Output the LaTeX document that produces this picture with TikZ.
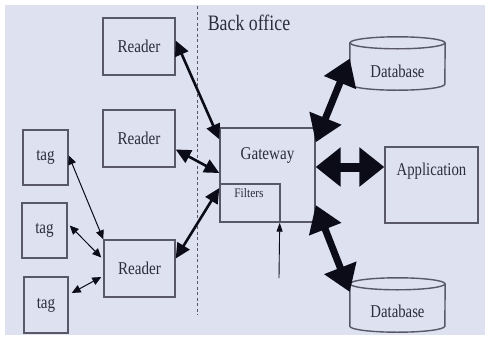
\documentclass[tikz,border=0pt]{standalone}
\usepackage{fontspec}
\setmainfont{Liberation Serif}
\usetikzlibrary{arrows.meta,calc}

\definecolor{bgc}{RGB}{221,225,240}
\definecolor{edge}{RGB}{88,88,104}
\definecolor{ink}{RGB}{45,45,60}
\definecolor{arr}{RGB}{12,12,24}

% horizontally condensed text
\newcommand{\cond}[2][0.84]{\scalebox{#1}[1]{#2}}

\tikzset{
  box/.style={draw=edge, line width=1.4pt, inner sep=0pt},
  lbl/.style={text=ink, inner sep=0pt, font=\fontsize{18}{21}\selectfont},
  smalllbl/.style={text=ink, inner sep=0pt, font=\fontsize{13}{15}\selectfont},
  cyl/.style={draw=edge, line width=1.4pt},
  thinarrow/.style={draw=arr, line width=1pt,
    {Triangle[length=9pt,width=8pt]}-{Triangle[length=9pt,width=8pt]}},
  midarrow/.style={draw=arr, line width=2.6pt,
    {Triangle[length=15pt,width=14pt]}-{Triangle[length=15pt,width=14pt]}},
  dbarrow/.style={draw=arr, line width=7pt,
    {Triangle[length=26pt,width=33pt]}-{Triangle[length=26pt,width=33pt]}},
  bigarrow/.style={draw=arr, line width=9pt,
    {Triangle[length=25pt,width=38pt]}-{Triangle[length=25pt,width=38pt]}},
}

\begin{document}
\begin{tikzpicture}[x=1pt,y=-1pt]
  \useasboundingbox (0,0) rectangle (491,341);
  \fill[white] (0,0) rectangle (491,341);
  \fill[bgc] (5,5) rectangle (485,335);

  % boundary of the back office
  \coordinate (dtop) at (197,6);
  \coordinate (dbot) at (197,315);
  \draw[edge, line width=0.9pt, dash pattern=on 3pt off 2.5pt] (dtop) -- (dbot);
  \node[font=\fontsize{22}{25}\selectfont, text=ink, inner sep=0pt] (bo) at (249,23) {\cond[0.81]{Back office}};

  % readers
  \node[box, lbl, minimum width=72pt, minimum height=57pt] (r1) at (139,46.5) {\cond{Reader}};
  \node[box, lbl, minimum width=72pt, minimum height=57pt] (r2) at (139,138.5) {\cond{Reader}};
  \node[box, lbl, minimum width=71pt, minimum height=57pt] (r3) at (139.5,268.5) {\cond{Reader}};

  % tags
  \node[box, lbl, minimum width=45pt, minimum height=55pt] (t1) at (45.5,157.5) {\cond{tag}};
  \node[box, lbl, minimum width=45pt, minimum height=55pt] (t2) at (44.5,230.5) {\cond{tag}};
  \node[box, lbl, minimum width=44pt, minimum height=56pt] (t3) at (46,305) {\cond{tag}};

  % gateway with its filter block
  \node[box, minimum width=95pt, minimum height=94pt] (gw) at (267.5,175) {};
  \node[lbl] (gwt) at (267.5,155) {\cond{Gateway}};
  \node[box, minimum width=60pt, minimum height=38pt] (fl) at (250,203) {};
  \node[smalllbl] (flt) at (249,193) {\cond[0.88]{Filters}};

  % application
  \node[box, minimum width=93pt, minimum height=76pt] (app) at (431.5,185) {};
  \node[lbl] (appt) at (431.5,171) {\cond[0.82]{Application}};

  % databases
  \node[minimum width=95pt, minimum height=53pt, inner sep=0pt] (db1) at (397.5,63.5) {};
  \node[minimum width=95pt, minimum height=54pt, inner sep=0pt] (db2) at (397.5,305) {};
  \foreach \d in {db1,db2}{
    \draw[cyl] ([yshift=-6pt]\d.north west) -- ([yshift=6pt]\d.south west)
      arc[start angle=180, end angle=360, x radius=47.5pt, y radius=6pt]
      -- ([yshift=-6pt]\d.north east);
    \draw[cyl] ([yshift=-6pt]\d.north) ellipse[x radius=47.5pt, y radius=6pt];
  }
  \node[lbl] (db1t) at (397.5,71) {\cond[0.82]{Database}};
  \node[lbl] (db2t) at (397.5,311) {\cond[0.82]{Database}};

  % tag <-> reader links
  \draw[thinarrow] ([yshift=2pt]t1.east) -- (r3.north west);
  \draw[thinarrow] ([yshift=5pt,xshift=2pt]t2.east) -- ([yshift=11pt,xshift=-2pt]r3.west);
  \draw[thinarrow] ([yshift=12pt,xshift=3pt]t3.east) -- ([yshift=-8.5pt,xshift=-2pt]r3.west);

  % reader <-> gateway links
  \draw[midarrow] ([yshift=6pt]r1.east) -- ([yshift=-12pt]gw.north west);
  \draw[midarrow] ([yshift=-11pt]r2.east) -- ([yshift=2pt]gw.west);
  \draw[midarrow] ([yshift=10pt]r3.east) -- ([yshift=-13pt]gw.west);

  % gateway <-> back office links
  \draw[dbarrow] ([yshift=-15pt]gw.north east) -- ([yshift=5pt]db1.west);
  \draw[bigarrow] ([yshift=8pt]gw.east) -- ([yshift=18pt]app.west);
  \draw[dbarrow] ([yshift=-30pt]gw.east) -- ([yshift=13pt]db2.west);

  % filter input
  \coordinate (fin) at (279,278);
  \draw[draw=arr, line width=0.9pt, -{Triangle[length=9pt,width=6pt]}] (fin) -- ([xshift=-1pt]fl.south east);
\end{tikzpicture}
\end{document}
